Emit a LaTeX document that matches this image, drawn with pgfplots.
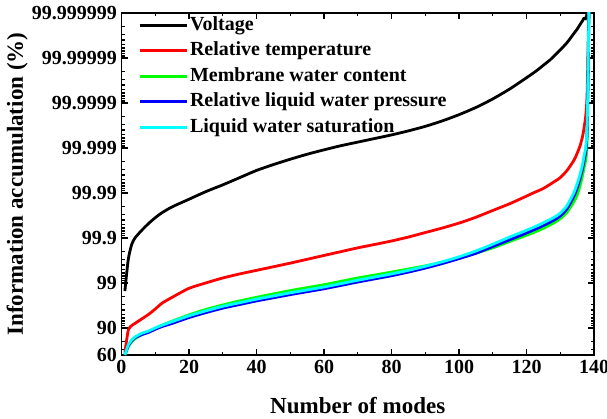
\documentclass[border=0pt]{standalone}
\usepackage{fontspec}
\setmainfont{Liberation Serif}
\usepackage{pgfplots}
\usepackage{pgfplotstable}
\pgfplotsset{compat=1.18}

% Unexplained information, 100 - accumulation (%), after the first n modes
\pgfplotstableread{
n resid
1 1.514
2 0.302
3 0.141
4 0.1000
6 0.0676
8 0.0479
10 0.0355
12 0.0275
15 0.0204
20 0.0138
25 0.00933
30 0.00661
35 0.00457
40 0.00316
45 0.00234
50 0.00178
55 0.00138
60 0.00110
65 0.000891
70 0.000741
75 0.000617
80 0.000513
85 0.000417
90 0.000331
95 0.000251
100 0.000182
105 0.000126
110 0.0000813
115 0.0000490
120 0.0000275
123 0.0000191
125 0.0000145
127 0.0000110
128 0.00000933
130 0.00000661
132 0.00000457
134 0.00000288
135 0.00000229
136 0.00000174
137 0.00000132
138 0.000000794
139 0.000000001
}\voltage

\pgfplotstableread{
n resid
1 35.48
2 11.22
3 8.913
4 7.943
6 6.310
8 5.012
10 3.802
12 2.818
15 2.089
20 1.318
25 1.000
30 0.776
35 0.631
40 0.525
45 0.437
50 0.363
55 0.2985
60 0.245
65 0.2018
70 0.166
75 0.1396
80 0.117
85 0.0955
90 0.0759
95 0.0603
100 0.0468
105 0.0347
110 0.0245
115 0.01738
120 0.01175
122 0.0100
125 0.00794
128 0.00575
130 0.00457
132 0.00316
134 0.00191
135 0.00132
136 0.000832
137 0.000380
138 0.0000501
139 0.000000001
}\temperature

\pgfplotstableread{
n resid
1 39.81
2 26.30
3 20.42
4 17.38
6 14.13
8 12.30
10 10.23
12 8.710
15 7.079
20 5.129
25 3.890
30 3.090
35 2.512
40 2.089
45 1.758
50 1.479
55 1.274
60 1.096
65 0.923
70 0.776
75 0.668
80 0.575
85 0.490
90 0.417
95 0.347
100 0.282
105 0.219
110 0.166
115 0.120
120 0.0871
124 0.0661
128 0.0468
130 0.0372
132 0.0269
134 0.0158
135 0.0112
136 0.00631
137 0.00282
138 0.000501
139 0.000000001
}\membrane

\pgfplotstableread{
n resid
1 39.81
2 25.12
3 19.50
4 16.60
6 14.13
8 12.59
10 10.72
12 9.333
15 7.943
20 5.888
25 4.571
30 3.631
35 3.020
40 2.512
45 2.138
50 1.820
55 1.567
60 1.349
65 1.135
70 0.955
75 0.813
80 0.692
85 0.575
90 0.468
95 0.372
100 0.288
105 0.219
110 0.155
115 0.110
120 0.0776
124 0.0575
128 0.0407
130 0.0324
132 0.0224
134 0.0120
135 0.00776
136 0.00437
137 0.00200
138 0.000316
139 0.000000001
}\pressure

\pgfplotstableread{
n resid
1 39.81
2 23.99
3 18.62
4 15.85
6 13.18
8 11.75
10 10.00
12 8.710
15 7.244
20 5.370
25 4.169
30 3.311
35 2.754
40 2.291
45 1.950
50 1.660
55 1.429
60 1.230
65 1.035
70 0.871
75 0.741
80 0.631
85 0.525
90 0.427
95 0.339
100 0.263
105 0.195
110 0.138
115 0.0955
120 0.0676
124 0.0501
128 0.0355
130 0.0282
132 0.0191
134 0.0100
135 0.00631
136 0.00355
137 0.00158
138 0.000251
139 0.000000001
}\saturation

\definecolor{pureGreen}{RGB}{0,255,0}
\definecolor{pureBlue}{RGB}{0,0,255}
\definecolor{pureCyan}{RGB}{0,255,255}
\definecolor{pureRed}{RGB}{255,0,0}

\begin{document}
\begin{tikzpicture}
\begin{axis}[
  at={(0pt,0pt)}, anchor=south west,
  scale only axis,
  width=472.5pt, height=342pt,
  xmin=0, xmax=140,
  ymode=log, y dir=reverse,
  ymin=1e-6, ymax=40,
  xtick={0,20,...,140},
  minor x tick num=1,
  ytick={1e-6,1e-5,1e-4,1e-3,1e-2,1e-1,1,10,40},
  yticklabels={99.999999,99.99999,99.9999,99.999,99.99,99.9,99,90,60},
  minor ytick={2e-6,3e-6,4e-6,5e-6,6e-6,7e-6,8e-6,9e-6,
               2e-5,3e-5,4e-5,5e-5,6e-5,7e-5,8e-5,9e-5,
               2e-4,3e-4,4e-4,5e-4,6e-4,7e-4,8e-4,9e-4,
               2e-3,3e-3,4e-3,5e-3,6e-3,7e-3,8e-3,9e-3,
               0.02,0.03,0.04,0.05,0.06,0.07,0.08,0.09,
               0.2,0.3,0.4,0.5,0.6,0.7,0.8,0.9,
               2,3,4,5,6,7,8,9,20,30},
  tick align=inside,
  tick pos=both,
  major tick length=6.5pt,
  minor tick length=3.5pt,
  every tick/.style={black, line width=1.2pt},
  axis line style={line width=1.5pt},
  /pgf/number format/assume math mode=true,
  ticklabel style={font=\fontsize{20}{20}\selectfont\bfseries},
  xticklabel style={yshift=-2pt},
  yticklabel style={xshift=-1pt},
  xlabel={Number of modes},
  ylabel={Information accumulation (\%)},
  label style={font=\fontsize{23}{23}\selectfont\bfseries},
  xlabel style={at={(axis description cs:0.5,0)}, anchor=base, yshift=-58pt},
  ylabel style={at={(axis description cs:-0.2085,0.5)}, anchor=base},
  legend cell align=left,
  legend image code/.code={\draw[#1] (0pt,0pt) -- (47pt,0pt);},
  legend style={
    at={(axis description cs:0.035,0.997)}, anchor=north west,
    draw=none, fill=none, inner sep=0pt,
    font=\fontsize{20}{20}\selectfont\bfseries,
    nodes={inner sep=2pt, text height=14pt, text depth=4pt},
    row sep=3.5pt,
  },
  every axis plot/.append style={line width=2.8pt, smooth, tension=0.4},
]
\addplot[black] table[x=n, y=resid] {\voltage};
\addlegendentry{Voltage}
\addplot[pureRed] table[x=n, y=resid] {\temperature};
\addlegendentry{Relative temperature}
\addplot[pureGreen] table[x=n, y=resid] {\membrane};
\addlegendentry{Membrane water content}
\addplot[pureBlue] table[x=n, y=resid] {\pressure};
\addlegendentry{Relative liquid water pressure}
\addplot[pureCyan] table[x=n, y=resid] {\saturation};
\addlegendentry{Liquid water saturation}
\end{axis}
\pgfresetboundingbox
\path[use as bounding box] (-121.5pt,-63pt) rectangle (485.5pt,355pt);
\end{tikzpicture}
\end{document}
